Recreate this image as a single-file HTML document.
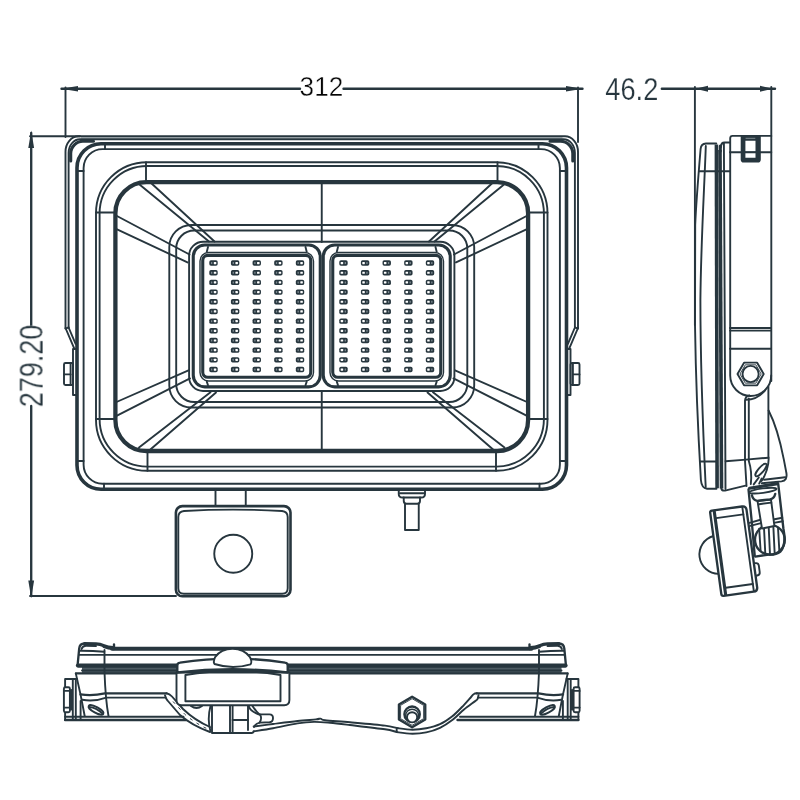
<!DOCTYPE html>
<html lang="en">
<head>
<meta charset="utf-8">
<title>LED floodlight with sensor – dimensional drawing</title>
<style>
html,body{margin:0;padding:0;background:#fff;}
body{width:800px;height:800px;overflow:hidden;font-family:"Liberation Sans",sans-serif;}
svg{display:block;}
.a{fill:none;stroke:#27363e;stroke-width:1.9;stroke-linecap:round;stroke-linejoin:round;}
.b{fill:none;stroke:#27363e;stroke-width:2.35;stroke-linecap:round;stroke-linejoin:round;}
.c{fill:none;stroke:#27363e;stroke-width:3.1;stroke-linecap:round;stroke-linejoin:round;}
.d{fill:none;stroke:#27363e;stroke-width:4.3;stroke-linecap:round;stroke-linejoin:round;}
.e{fill:none;stroke:#27363e;stroke-width:3.6;stroke-linecap:butt;}
.w2{fill:#fff;stroke:#27363e;stroke-width:2.35;stroke-linejoin:round;}
.h{fill:none;stroke:#27363e;stroke-width:1;stroke-dasharray:3 5;}
.m{fill:none;stroke:#27363e;stroke-width:1.4;}
.fr{fill:none;stroke:#27363e;stroke-width:3.6;}
.n{fill:none;stroke:#27363e;stroke-width:0.9;}
.d2{fill:none;stroke:#27363e;stroke-width:4;stroke-linecap:round;}
.k2{fill:none;stroke:#27363e;stroke-width:2.6;}
.w{fill:#fff;stroke:#27363e;stroke-width:1.9;stroke-linejoin:round;}
.f{fill:#27363e;stroke:none;}
.l{fill:#fff;stroke:#27363e;stroke-width:1.9;}
.l2{fill:none;stroke:#27363e;stroke-width:1.7;}
.t{font-family:"Liberation Sans",sans-serif;font-size:28.4px;fill:#27363e;stroke:#fff;stroke-width:0.4px;}
.u{font-size:29.5px;}
.s{stroke-width:0.25px;}
.k{fill:#050505;}
</style>
</head>
<body>
<svg width="800" height="800" viewBox="0 0 800 800">
<defs><g id="led"><rect x="-4.2" y="-2.7" width="8.4" height="5.4" rx="1.7" fill="#27363e"/><rect x="0.3" y="-1.1" width="2.5" height="2.2" rx="0.4" fill="#fff"/><rect x="-2.5" y="-1" width="1.3" height="2" rx="0.3" fill="#7d8a91"/></g></defs>
<g id="front">
<path d="M81,137.6 H562.5" stroke="#b9c0c4" stroke-width="2.2" fill="none"/>
<path class="a" d="M65.5,328 V151.8 A13,15.5 0 0 1 78.5,136.3 H565.0 A13,15.5 0 0 1 578.0,151.8 V328"/>
<path class="a" d="M68.6,327.5 V152.8 A11.4,13.5 0 0 1 80,139.3 H563.5 A11.4,13.5 0 0 1 574.9,152.8 V327.5"/>
<rect class="fr" x="77.00" y="143.70" width="489.50" height="345.50" rx="24" ry="24"/>
<rect class="a" x="83.60" y="149.10" width="476.30" height="334.60" rx="19" ry="19"/>
<rect class="a" x="96.00" y="162.20" width="451.50" height="308.60" rx="51" ry="51"/>
<rect class="a" x="99.60" y="166.00" width="444.30" height="300.60" rx="47.5" ry="47.5"/>
<rect class="d" x="115.40" y="182.20" width="412.70" height="268.80" rx="31" ry="31"/>
<rect class="a" x="169.30" y="225.00" width="304.90" height="182.50" rx="22" ry="22"/>
<rect class="a" x="176.20" y="230.50" width="291.10" height="171.50" rx="18" ry="18"/>
<rect class="a" x="189.10" y="241.75" width="265.30" height="149.25" rx="14" ry="14"/>
<path class="a" d="M321.75,182.2 L321.75,242"/>
<path class="a" d="M321.75,391 L321.75,451"/>
<g id="fh">
<path class="a" d="M65.5,328 L74.4,348.8"/>
<path class="a" d="M68.6,327.5 L75.6,343.8"/>
<path class="a" d="M65.5,328.6 L68.6,327.3"/>
<path class="a" d="M75.6,349 H73 V395 H75.6"/>
<rect class="a" x="64.00" y="363.00" width="9.00" height="22.00" rx="1.5" ry="1.5"/>
<path class="a" d="M64,374.4 L70.6,374.4"/>
<path class="a" d="M70.6,363 L70.6,385"/>
<path class="c" d="M70.7,161 V153.5 A12.3,12.3 0 0 1 83,141.3 H93.5"/>
<path class="a" d="M77,171 L83.6,171"/>
<path class="a" d="M105,143.7 L105,149.1"/>
<path class="a" d="M77,461 L83.6,461"/>
<path class="a" d="M104,483.7 L104,489.2"/>
<path class="a" d="M146,162.2 L146,182.2"/>
<path class="a" d="M96,212.5 L115.4,212.5"/>
<path class="a" d="M147.5,451 L147.5,470.8"/>
<path class="a" d="M96,419 L115.4,419"/>
<path class="a" d="M139.5,184.5 L209,241.5"/>
<path class="a" d="M150.5,182.5 L214.5,241.5"/>
<path class="a" d="M116,215.5 L189.5,254.5"/>
<path class="a" d="M116,228.8 L187.5,262.4"/>
<path class="a" d="M116.5,402 L188.5,370.3"/>
<path class="a" d="M116.5,415.8 L190,378.4"/>
<path class="a" d="M139,447.5 L210.5,392.25"/>
<path class="a" d="M150.4,449.5 L216,392.5"/>
<rect class="c" x="193.25" y="245.05" width="127.00" height="141.80" rx="11.5" ry="11.5"/>
<rect class="m" x="200.00" y="252.50" width="113.50" height="128.50" rx="8.5" ry="8.5"/>
<rect class="c" x="202.75" y="255.40" width="108.00" height="121.90" rx="5" ry="5"/>
<path class="a" d="M206.8,251.8 L208,247"/>
<path class="a" d="M306.7,251.8 L305.5,247"/>
<path class="a" d="M206.8,381.6 L208,385.2"/>
<path class="a" d="M306.7,381.6 L305.5,385.2"/>
<use href="#led" x="213.50" y="263.05"/>
<use href="#led" x="235.13" y="263.05"/>
<use href="#led" x="256.76" y="263.05"/>
<use href="#led" x="278.39" y="263.05"/>
<use href="#led" x="300.02" y="263.05"/>
<use href="#led" x="213.50" y="272.73"/>
<use href="#led" x="235.13" y="272.73"/>
<use href="#led" x="256.76" y="272.73"/>
<use href="#led" x="278.39" y="272.73"/>
<use href="#led" x="300.02" y="272.73"/>
<use href="#led" x="213.50" y="282.41"/>
<use href="#led" x="235.13" y="282.41"/>
<use href="#led" x="256.76" y="282.41"/>
<use href="#led" x="278.39" y="282.41"/>
<use href="#led" x="300.02" y="282.41"/>
<use href="#led" x="213.50" y="292.09"/>
<use href="#led" x="235.13" y="292.09"/>
<use href="#led" x="256.76" y="292.09"/>
<use href="#led" x="278.39" y="292.09"/>
<use href="#led" x="300.02" y="292.09"/>
<use href="#led" x="213.50" y="301.77"/>
<use href="#led" x="235.13" y="301.77"/>
<use href="#led" x="256.76" y="301.77"/>
<use href="#led" x="278.39" y="301.77"/>
<use href="#led" x="300.02" y="301.77"/>
<use href="#led" x="213.50" y="311.45"/>
<use href="#led" x="235.13" y="311.45"/>
<use href="#led" x="256.76" y="311.45"/>
<use href="#led" x="278.39" y="311.45"/>
<use href="#led" x="300.02" y="311.45"/>
<use href="#led" x="213.50" y="321.13"/>
<use href="#led" x="235.13" y="321.13"/>
<use href="#led" x="256.76" y="321.13"/>
<use href="#led" x="278.39" y="321.13"/>
<use href="#led" x="300.02" y="321.13"/>
<use href="#led" x="213.50" y="330.81"/>
<use href="#led" x="235.13" y="330.81"/>
<use href="#led" x="256.76" y="330.81"/>
<use href="#led" x="278.39" y="330.81"/>
<use href="#led" x="300.02" y="330.81"/>
<use href="#led" x="213.50" y="340.49"/>
<use href="#led" x="235.13" y="340.49"/>
<use href="#led" x="256.76" y="340.49"/>
<use href="#led" x="278.39" y="340.49"/>
<use href="#led" x="300.02" y="340.49"/>
<use href="#led" x="213.50" y="350.17"/>
<use href="#led" x="235.13" y="350.17"/>
<use href="#led" x="256.76" y="350.17"/>
<use href="#led" x="278.39" y="350.17"/>
<use href="#led" x="300.02" y="350.17"/>
<use href="#led" x="213.50" y="359.85"/>
<use href="#led" x="235.13" y="359.85"/>
<use href="#led" x="256.76" y="359.85"/>
<use href="#led" x="278.39" y="359.85"/>
<use href="#led" x="300.02" y="359.85"/>
<use href="#led" x="213.50" y="369.53"/>
<use href="#led" x="235.13" y="369.53"/>
<use href="#led" x="256.76" y="369.53"/>
<use href="#led" x="278.39" y="369.53"/>
<use href="#led" x="300.02" y="369.53"/>
</g>
<use href="#fh" transform="translate(643.5,0) scale(-1,1)"/>
<path class="a" d="M215.5,489.5 L215.5,506"/>
<path class="a" d="M245.75,489.5 L245.75,506"/>
<rect class="k2" x="175.90" y="506.10" width="114.60" height="90.20" rx="6.5" ry="6.5"/>
<path class="a" d="M178.3,517 Q178.4,511.6 184,511 Q233,508.2 282,511 Q287.6,511.6 287.7,517 V588.3 Q287.7,593.8 282.2,593.8 H183.8 Q178.3,593.8 178.3,588.3 Z"/>
<circle class="a" cx="233.25" cy="553.75" r="19"/>
<path class="a" d="M398.75,490 V494 Q398.75,497.5 402.5,497.5 H421.3 Q425,497.5 425,494 V490"/>
<path class="a" d="M400,493.3 L424,493.3"/>
<path class="a" d="M403.75,497.5 V501 Q403.75,503.75 406.5,503.75 H417.3 Q420,503.75 420,501 V497.5"/>
<path class="a" d="M405,503.75 V530 H418.75 V503.75"/>
</g>
<defs><filter id="n" x="-5%" y="-5%" width="110%" height="110%" color-interpolation-filters="sRGB"><feOffset dx="0" dy="0"/></filter></defs>
<g id="dims">
<path class="b" d="M61.5,88.75 L300,88.75"/>
<path class="b" d="M343.5,88.75 L582.5,88.75"/>
<path class="f" d="M61,88.75 L78,85.9 V91.6 Z"/>
<path class="f" d="M583,88.75 L566,85.9 V91.6 Z"/>
<path class="a" d="M65.5,87.5 L65.5,137"/>
<path class="a" d="M578,87.5 L578,142"/>
<path class="b" d="M31.2,133 L31.2,326"/>
<path class="b" d="M31.2,406 L31.2,596"/>
<path class="f" d="M31.2,130.5 L28.3,148 H34.1 Z"/>
<path class="f" d="M31.2,598 L28.3,580.5 H34.1 Z"/>
<path class="a" d="M30,136.3 L80,136.3"/>
<path class="a" d="M30,596 L176,596"/>
<path class="b" d="M661.8,88.75 L775,88.75"/>
<path class="f" d="M695.2,88.75 L708,85.8 V91.7 Z"/>
<path class="f" d="M772.8,88.75 L760,85.8 V91.7 Z"/>
<path class="a" d="M694.9,87 L694.9,325"/>
<path class="a" d="M771.3,87 L771.3,381"/>
<g filter="url(#n)">
<text class="t k" x="299.6" y="96.4" textLength="43.6" lengthAdjust="spacingAndGlyphs">312</text>
<text class="t s" style="font-size:30.6px" x="605.3" y="99.7" textLength="53" lengthAdjust="spacingAndGlyphs">46.2</text>
<text class="t s" style="font-size:32.4px" transform="translate(42.6,407.2) rotate(-90)" textLength="82.5" lengthAdjust="spacingAndGlyphs">279.20</text>
</g>
</g>
<g id="side">
<path class="a" d="M716.3,143.5 H706 Q701,143.8 700.6,149 C698,180 696,205 695.2,225 L695,325 C695.5,360 697.3,420 700.9,480 Q701.6,488.2 707,488.7 H716.5"/>
<path class="a" d="M705.8,146 C704.5,185 701,240 700.4,300 C700.4,350 702.5,420 705.7,487"/>
<path class="a" d="M699.3,171.3 L730,171.3"/>
<path class="a" d="M700.2,461.5 L716,461.5"/>
<path class="e" d="M716.4,144.5 L717.1,488.3"/>
<path class="e" d="M720.0,150 L721.5,488.5"/>
<path class="c" d="M720.3,146 L720.3,151"/>
<path class="a" d="M723.9,143 L725.5,489"/>
<path class="a" d="M721,147 Q721,142.5 724.5,142.5 H730"/>
<path class="a" d="M730.2,152.2 V375.5 A20.5,20.5 0 0 0 771.2,375.5"/>
<path class="a" d="M730.2,152.2 V138.3 Q730.2,135.9 732.6,135.9 H771.3"/>
<path class="a" d="M730.2,152.2 L771.3,152.2"/>
<path fill="#27363e" fill-rule="evenodd" d="M740.7,135.2 H760.8 V159.4 Q760.8,162.5 757.7,162.5 H743.8 Q740.7,162.5 740.7,159.4 Z M745.4,140.8 V151.4 H755.5 V140.8 Z M745.4,153.1 V157.8 H755.5 V153.1 Z"/>
<path d="M745.6,138.3 H755.3" stroke="#8a959b" stroke-width="0.9" fill="none"/>
<path class="a" d="M730,328 L771,328"/>
<path class="a" d="M730,330.6 L771,330.6"/>
<path class="a" d="M730,348.75 L771,348.75"/>
<polygon class="a" points="763.70,374.00 757.15,385.34 744.05,385.34 737.50,374.00 744.05,362.66 757.15,362.66"/>
<polygon class="n" points="761.20,374.00 755.90,383.18 745.30,383.18 740.00,374.00 745.30,364.82 755.90,364.82"/>
<circle class="a" cx="750.6" cy="374" r="8.1"/>
<path class="a" d="M749.5,395.4 Q745.3,396.5 745,400.5 V461 L746.5,486"/>
<path class="a" d="M746.3,399.8 Q757,399.8 765,390.5"/>
<path class="a" d="M748.8,398.5 V461 Q752.3,472 750.8,484"/>
<path class="a" d="M768.4,386.5 V456 Q769.3,462 766.8,470 Q764.5,477 761.5,481"/>
<path class="a" d="M768.6,410.5 C773.5,420 780,440 783.8,459.4 L786.4,473 Q787.6,480.6 781.5,481.4 L761.8,483.2"/>
<path class="a" d="M785.2,477.2 L764,479.7"/>
<path class="a" d="M721.3,488.5 Q721.8,491 725,490.6 L745.5,485.6"/>
<path class="a" d="M725.6,461.2 L746,459.6 L768.4,457.7"/>
<ellipse class="w" cx="761" cy="470" rx="8" ry="2.6" transform="rotate(-49 761 470)"/>
<path class="a" d="M758.8,477.5 L753.7,484.4"/>
<path class="a" d="M761.6,478.6 L759.2,483.6"/>
<g transform="translate(733.8,551) rotate(-7.8)">
<path class="a" d="M-18.2,-17.6 A19.3,19.3 0 0 0 -18.2,20.6"/>
<path class="a" d="M18.2,15 H19.8 Q22.8,15 22.8,18 V24.5 Q22.8,27.5 19.8,27.5 H18.2"/>
<path class="w2" d="M-16.2,-43 H14.2 Q18.2,-43 18.2,-39 V39 Q18.2,43 14.2,43 H-16.2 Q-18.2,43 -18.2,41 V-41 Q-18.2,-43 -16.2,-43 Z"/>
<path class="c" d="M-14.0,-42 L-14.0,42"/>
<path class="a" d="M-13,-35 L14.4,-35"/>
<path class="a" d="M-13,35.3 L14.4,35.3"/>
<path class="a" d="M14.4,-42.5 L14.4,42.5"/>
</g>
<circle class="b" cx="769.9" cy="539.75" r="14.9"/>
<path class="a" d="M759.2,528.7 L760.6,550.8"/>
<path class="a" d="M763.9,525.82 L765.3,553.68"/>
<path class="a" d="M768.6,524.86 L770.0,554.64"/>
<path class="a" d="M773.3,525.43 L774.7,554.07"/>
<path class="a" d="M778.0,527.73 L779.4,551.77"/>
<path class="b" d="M748.5,489.5 L751.9,523 L754.7,555.5"/>
<path class="b" d="M778.3,484.6 L783.4,528.5 Q786.5,545 780.5,551.5 Q776,555 768.75,554.6 L755.25,556.6"/>
<path class="a" d="M749.6,522.9 L761.4,519.5"/>
<path class="a" d="M750.2,525.9 L762,522.9"/>
<path class="a" d="M773.25,519.5 L782.25,517.8"/>
<path class="a" d="M773.8,522.9 L782.8,521.2"/>
<path class="w" d="M757.5,501 L762,528.5 L774.4,526 L771,499.6 Z"/>
<path class="a" d="M759.2,504.2 L771.3,502.6"/>
<path class="c" d="M749.6,488.2 L777.75,483.6"/>
<ellipse class="a" cx="762.9" cy="490.6" rx="13.8" ry="2.3" transform="rotate(-7.5 762.9 490.6)"/>
<path class="b" d="M751.9,495.3 Q753,500.3 757.5,500.8 L770,499.3 Q774.2,498.5 775.2,494"/>
</g>
<g id="bottom">
<path class="d2" d="M112,648.7 L531.5,648.7"/>
<path class="a" d="M79.3,654.85 L564.2,654.85"/>
<path d="M82,669.5 H561.5" stroke="#4d5b63" stroke-width="8" fill="none"/>
<path class="d" d="M78,665.6 L565.5,665.6"/>
<path class="a" d="M82,670.5 L561.5,670.5"/>
<path class="b" d="M76,673.4 L567.5,673.4"/>
<g id="bh">
<path class="b" d="M77.7,664 L79.2,648.5 Q79.7,643.5 84.5,643.5"/>
<path class="c" d="M84.5,643.6 L96,643.9 Q100,644.1 104,645.7 T113,647.6"/>
<path class="c" d="M104,646.6 Q108,648.3 114,648.6"/>
<path class="a" d="M81.6,649 Q82.5,645.8 86,645.8 L96,646"/>
<path class="a" d="M79.4,650.7 Q92,650.6 104.3,651.7"/>
<path class="b" d="M114,644.4 L114,646.4"/>
<path class="a" d="M104.5,650 V672 Q105.5,700 108.5,716"/>
<path class="a" d="M75.8,673.4 L80.5,694.4 L84.7,716"/>
<path class="b" d="M80.5,694.4 Q92,696.3 104.9,693.4 H166.5"/>
<path class="a" d="M82.3,699.8 Q94,702 106.3,697.6 H165.5"/>
<path class="a" d="M65.1,716.8 L183.5,716.8"/>
<path class="b" d="M65.1,720 L186,720"/>
<path class="a" d="M65.1,720 V679 H77"/>
<path class="a" d="M72.8,679 L72.8,720"/>
<path class="a" d="M75.8,679 L75.8,720"/>
<path class="a" d="M80.6,701 L80.6,720"/>
<rect class="w" x="63.90" y="687.30" width="6.00" height="25.00" rx="1.5" ry="1.5"/>
<path class="a" d="M63.9,690.9 L69.9,690.9"/>
<path class="a" d="M63.9,707.6 L69.9,707.6"/>
<path class="c" d="M71.4,690.5 L71.4,709"/>
<ellipse class="a" cx="96" cy="709.9" rx="8.3" ry="2.9" transform="rotate(29 96 709.9)"/>
<path class="a" d="M89.5,707 Q96,707.5 102.5,713.6"/>
</g>
<use href="#bh" transform="translate(643.5,0) scale(-1,1)"/>
<path class="a" d="M166.5,693.2 Q169.5,693.6 172,696.5 L183,709 Q195,720.5 210,727"/>
<path class="a" d="M165,695.2 Q166,699 167.5,700.5 L180,715 Q192,725.5 210,732"/>
<path class="h" d="M173,701.5 L184.5,714 Q196,724 209,729.5"/>
<path class="a" d="M253.6,726.5 C256.83,726.08 265.68,724.92 273,724 C280.32,723.08 290.33,721.77 297.5,721 C304.67,720.23 312.17,719.80 316,719.4 C319.83,719.00 319.00,718.45 320.5,718.6 C322.00,718.75 320.08,719.68 325,720.3 C329.92,720.92 340.00,721.42 350,722.3 C360.00,723.18 376.88,724.60 385,725.6 C393.12,726.60 394.12,727.62 398.7,728.3 C403.28,728.98 407.92,729.70 412.5,729.7 C417.08,729.70 421.62,729.22 426.2,728.3 C430.78,727.38 435.70,726.17 440,724.2 C444.30,722.23 448.33,719.37 452,716.5 C455.67,713.63 458.75,710.33 462,707 C465.25,703.67 469.50,698.67 471.5,696.5 C473.50,694.33 473.08,694.55 474,694 C474.92,693.45 476.50,693.33 477,693.2"/>
<path class="a" d="M253.6,731.4 C256.83,730.87 265.68,729.53 273,728.2 C280.32,726.87 290.67,724.45 297.5,723.4 C304.33,722.35 308.58,722.00 314,721.9 C319.42,721.80 324.00,722.28 330,722.8 C336.00,723.32 340.83,723.92 350,725 C359.17,726.08 376.88,728.07 385,729.3 C393.12,730.53 394.12,731.65 398.7,732.4 C403.28,733.15 407.92,733.80 412.5,733.8 C417.08,733.80 421.62,733.40 426.2,732.4 C430.78,731.40 435.53,729.95 440,727.8 C444.47,725.65 449.00,722.55 453,719.5 C457.00,716.45 460.17,712.67 464,709.5 C467.83,706.33 473.72,702.33 476,700.5 C478.28,698.67 477.28,699.38 477.7,698.5 C478.12,697.62 478.37,695.75 478.5,695.2"/>
<path class="a" d="M396.7,728 L396.7,732"/>
<path class="w" d="M176.5,672.5 V700 Q176.5,705.2 181.7,705.2 H284.2 Q289.4,705.2 289.4,700 V672.5 Z"/>
<path class="a" d="M185.4,701.2 V675 Q232.9,667 280.5,675 V701.2 Z"/>
<path class="w2" d="M177.3,665.5 Q177.3,662.9 180,662.6 Q232.6,654.6 285,662.6 Q287.7,662.9 287.7,665.5 V672.5 Q232.6,666 177.3,672.5 Z"/>
<path class="w" d="M214.5,664 Q213,662 215,657.3 Q221,648.8 232.6,648.8 Q244,648.8 250,657.3 Q252.5,662 250.5,664.3 Q232.6,669.8 214.5,664 Z"/>
<path class="a" d="M191,706 Q196.5,710 202,706"/>
<path class="a" d="M210.5,706 Q207,719 210.5,731.5"/>
<path class="a" d="M212,706 V733 H252 Q253.4,733 253.6,731.4"/>
<path class="a" d="M230,706 L230,733"/>
<path class="a" d="M232.6,706 L232.6,733"/>
<path class="a" d="M248,706 L248,730"/>
<path class="a" d="M232.6,720 L248,720"/>
<path class="a" d="M248.7,706 Q250,711 258.5,714.4 H269.5 Q273,714.4 273,718 Q273,722 269.5,722.3 L260,722.6 Q255.5,723.5 254,727"/>
<path class="a" d="M252.5,706 Q256,711.5 259.5,714.4"/>
<path class="a" d="M260,714.6 Q262.5,718.5 259.5,722.6"/>
<polygon class="b" points="425.26,719.60 412.10,727.20 398.94,719.60 398.94,704.40 412.10,696.80 425.26,704.40"/>
<polygon class="n" points="423.62,718.65 412.10,725.30 400.58,718.65 400.58,705.35 412.10,698.70 423.62,705.35"/>
<circle class="b" cx="412.1" cy="714.2" r="7.7"/>
<circle class="m" cx="412.1" cy="715.6" r="6.4"/>
<circle class="w" cx="412.1" cy="717.3" r="5.1"/>
</g>
</svg>
</body>
</html>
